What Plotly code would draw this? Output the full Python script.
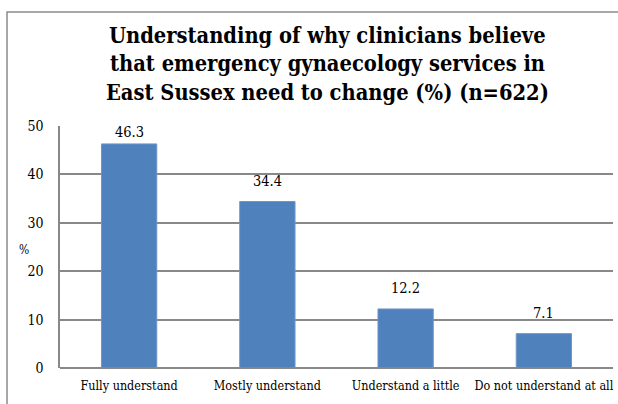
import plotly.graph_objects as go

categories = ["Fully understand", "Mostly understand", "Understand a little", "Do not understand at all"]
values = [46.3, 34.4, 12.2, 7.1]
y_ticks = [0, 10, 20, 30, 40, 50]

title_lines = [
    "Understanding of why clinicians believe",
    "that emergency gynaecology services in",
    "East Sussex need to change (%) (n=622)",
]

serif = "DejaVu Serif Condensed, DejaVu Serif, serif"
grid_col = "#888888"
Y_MAX = 50

# plot area in pixels: left 60, right 613, top 126, bottom 368
PLOT_TOP, PLOT_BOTTOM = 126, 368
PLOT_H = PLOT_BOTTOM - PLOT_TOP
PX_PER_UNIT = PLOT_H / Y_MAX


def py(pix):
    """Convert a pixel row from the top of the page to paper y."""
    return (PLOT_BOTTOM - pix) / PLOT_H


fig = go.Figure(
    go.Bar(
        x=categories,
        y=values,
        width=0.4,
        marker=dict(color="#4F81BD", line=dict(color="#6F96C8", width=1)),
        cliponaxis=False,
    )
)

# value labels sit above each bar, pulled closer when near the top of the axis
annotations = []
for cat, v in zip(categories, values):
    room = (Y_MAX - v) * PX_PER_UNIT - 16
    annotations.append(
        dict(
            text=f"{v:.1f}", x=cat, y=v, xref="x", yref="y",
            xanchor="center", yanchor="bottom",
            yshift=max(0, min(11, room)),
            showarrow=False,
            font=dict(family=serif, size=14.5, color="#000000"),
        )
    )

annotations += [
    dict(
        text=line, xref="paper", yref="paper",
        x=0.483, y=py(pix), xanchor="center", yanchor="middle",
        showarrow=False,
        font=dict(family=serif, size=21.7, color="#000000", weight="bold"),
    )
    for line, pix in zip(title_lines, [35, 64, 93])
]
annotations.append(
    dict(
        text="%", xref="paper", yref="paper",
        x=-0.066, y=py(250), xanchor="center", yanchor="middle",
        showarrow=False,
        font=dict(family=serif, size=12, color="#000000"),
    )
)

fig.update_layout(
    width=618,
    height=404,
    margin=dict(l=60, r=5, t=PLOT_TOP, b=404 - PLOT_BOTTOM),
    paper_bgcolor="white",
    plot_bgcolor="white",
    showlegend=False,
    xaxis=dict(
        showgrid=False,
        showline=False,
        ticks="",
        ticklabelstandoff=8,
        tickfont=dict(family=serif, size=12.5, color="#000000"),
    ),
    yaxis=dict(
        range=[0, Y_MAX],
        tickvals=y_ticks,
        showgrid=True,
        gridcolor=grid_col,
        gridwidth=1.5,
        showline=True,
        linecolor=grid_col,
        linewidth=1.5,
        zeroline=True,
        zerolinecolor=grid_col,
        zerolinewidth=2,
        ticks="",
        ticklen=0,
        ticklabelstandoff=12,
        tickfont=dict(family=serif, size=14, color="#000000"),
    ),
    shapes=[
        dict(
            type="rect", xref="paper", yref="paper",
            x0=-0.0958, x1=1.2, y0=-0.5, y1=py(12),
            line=dict(color="#8c8c8c", width=1.5),
            fillcolor="rgba(0,0,0,0)",
            layer="below",
        )
    ],
    annotations=annotations,
)

fig.write_html("out.html")
